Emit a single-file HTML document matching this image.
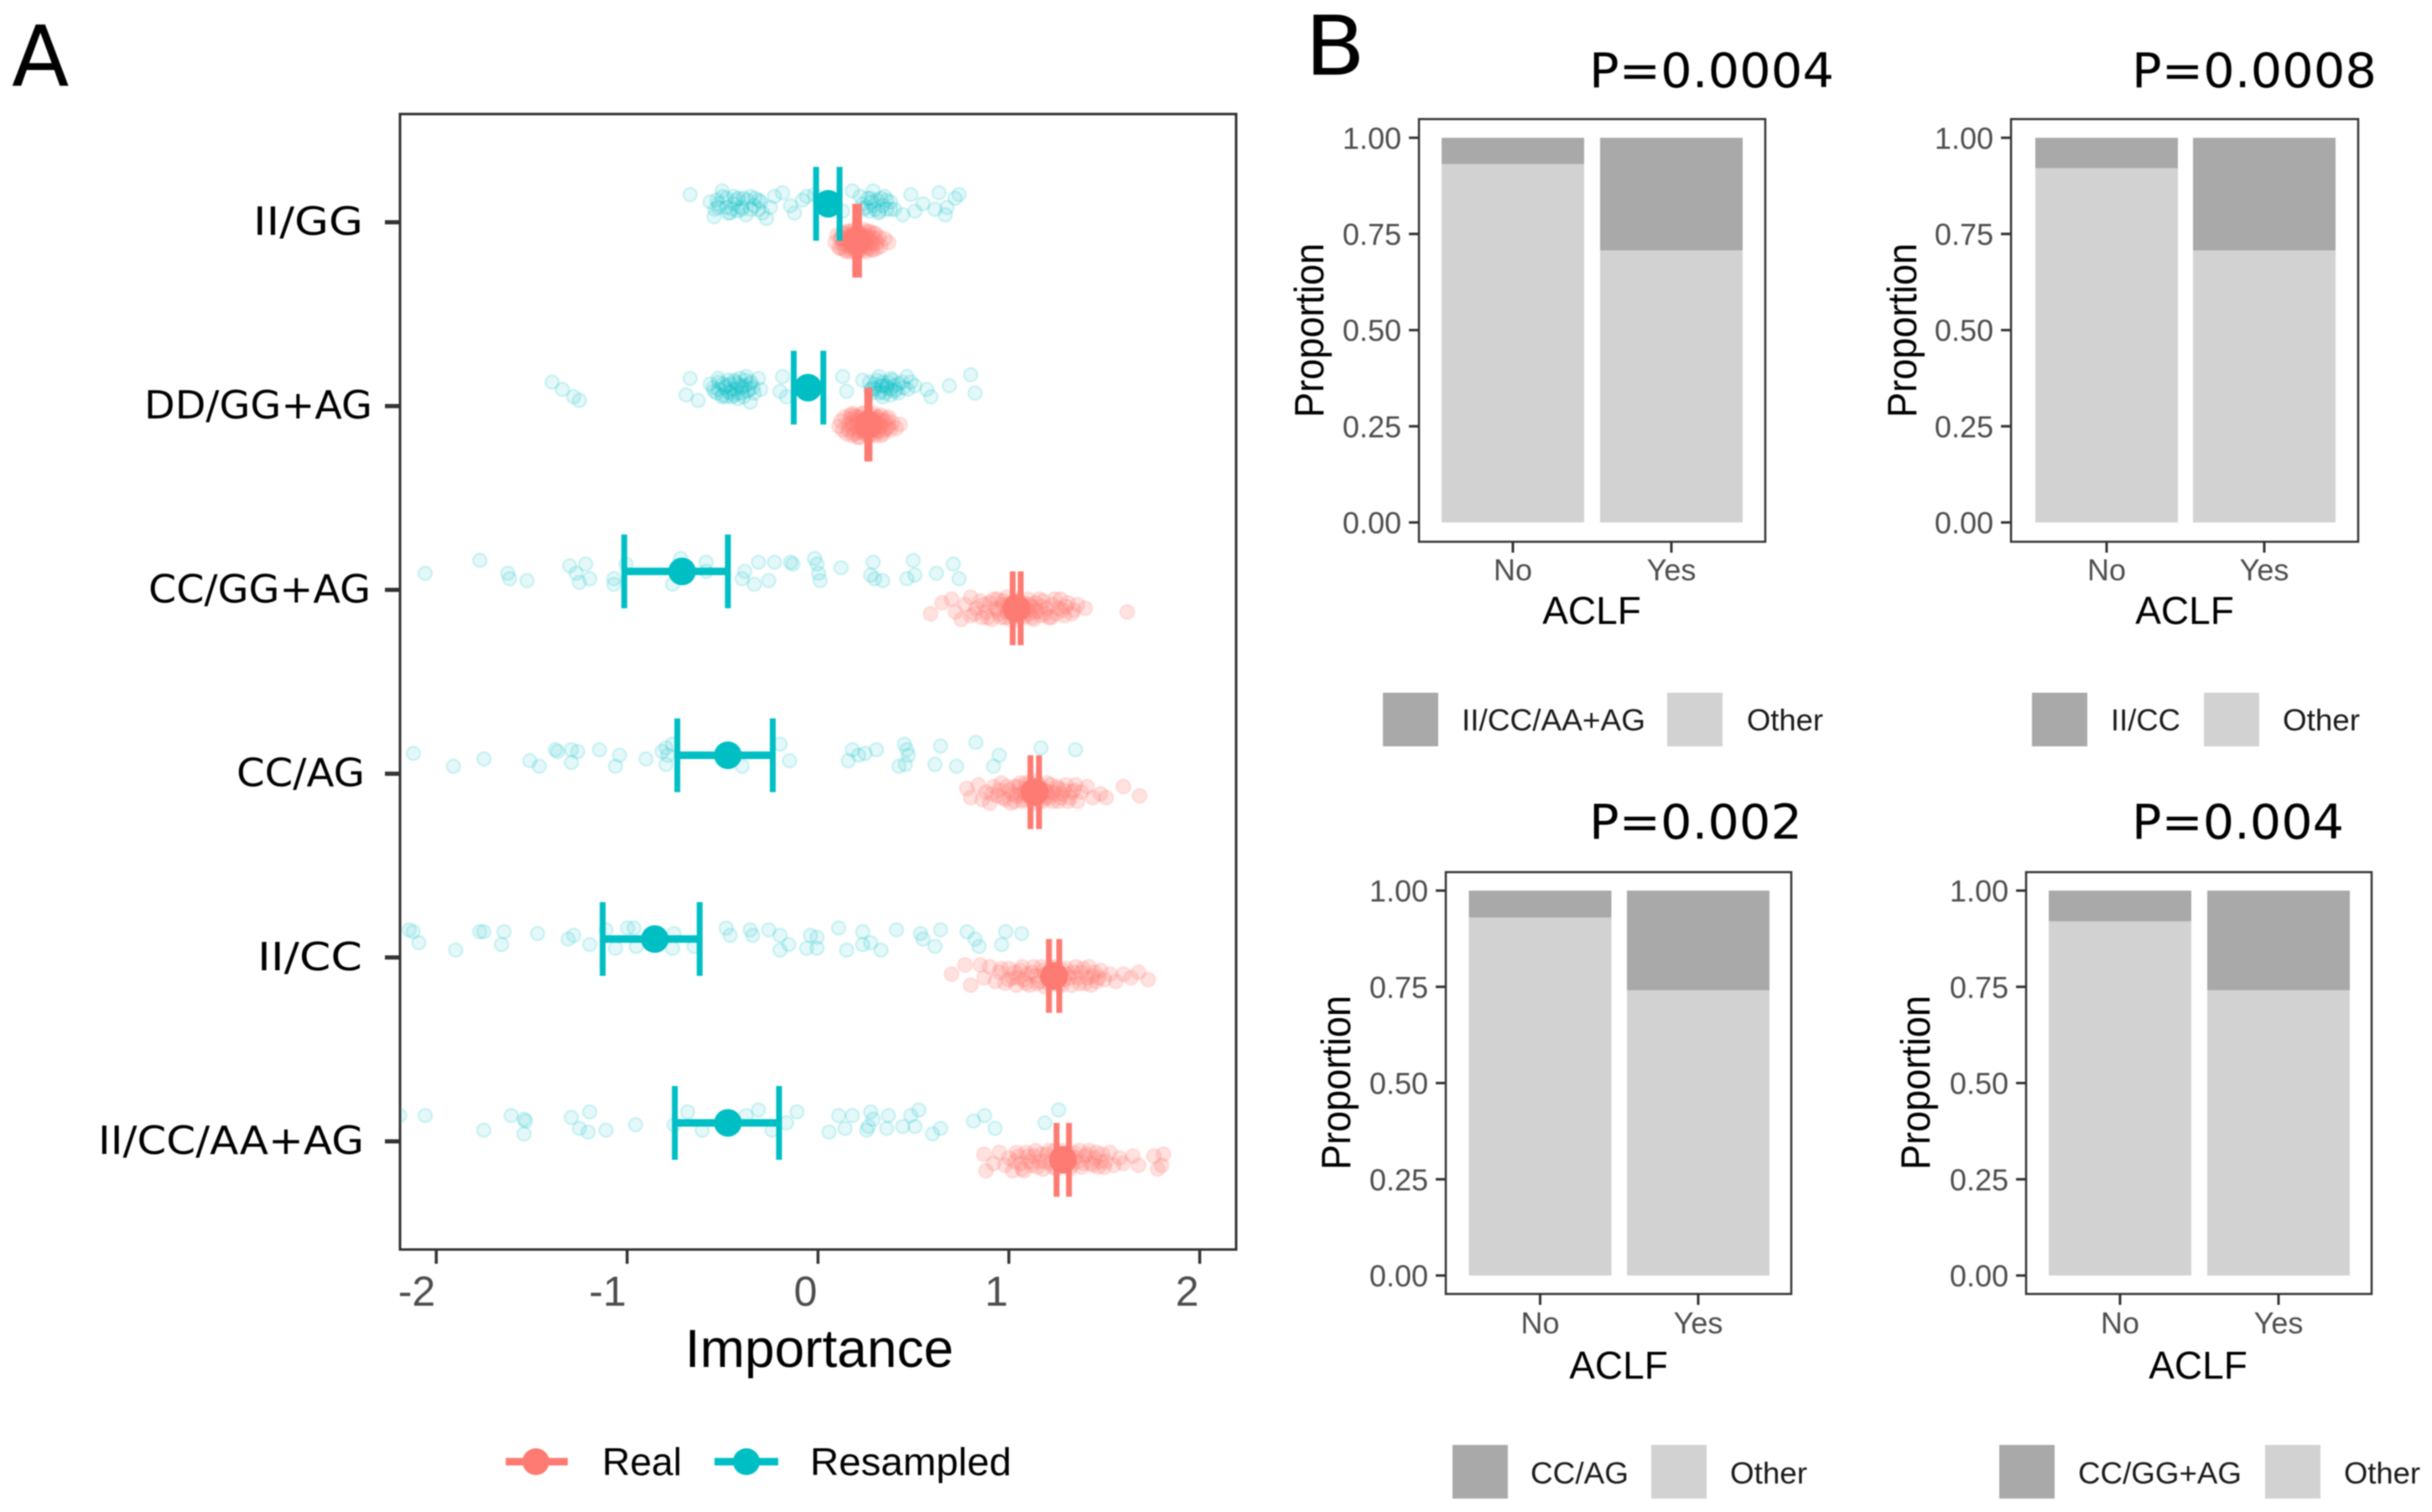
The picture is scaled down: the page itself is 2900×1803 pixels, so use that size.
<!DOCTYPE html>
<html lang="en">
<head>
<meta charset="utf-8">
<title>Importance and proportion panels</title>
<style>
html,body{margin:0;padding:0;background:#fff;width:2900px;height:1803px;overflow:hidden}
svg{display:block;filter:blur(.8px)}
text{font-family:"Liberation Sans",sans-serif}
.deja{font-family:"DejaVu Sans",sans-serif}
</style>
</head>
<body>
<svg id="chart" xmlns="http://www.w3.org/2000/svg" width="2900" height="1803" viewBox="0 0 2900 1803">
  <rect width="2900" height="1803" fill="#fff"/>
  <defs><clipPath id="panelAClip"><rect x="477" y="136" width="997" height="1354"/></clipPath></defs>
  <text class="deja" x="14" y="102" font-size="100">A</text>
  <text class="deja" x="1556" y="89" font-size="98" textLength="72" lengthAdjust="spacingAndGlyphs">B</text>
  <g id="panelA"></g>
  <text x="977" y="1630" font-size="64" text-anchor="middle">Importance</text>
  <g>
    <line x1="603" x2="677" y1="1743" y2="1743" stroke="#fd7b72" stroke-width="9"/>
    <circle cx="639" cy="1743" r="16" fill="#fd7b72"/>
    <text x="718" y="1759" font-size="46" textLength="95" lengthAdjust="spacingAndGlyphs">Real</text>
    <line x1="852" x2="928" y1="1743" y2="1743" stroke="#00bfc4" stroke-width="9"/>
    <circle cx="890" cy="1743" r="16" fill="#00bfc4"/>
    <text x="966" y="1759" font-size="46" textLength="240" lengthAdjust="spacingAndGlyphs">Resampled</text>
  </g>
  <g id="panelB"></g>
</svg>
<script>
// ---------- Panel A data ----------
const categories = ['II/GG', 'DD/GG+AG', 'CC/GG+AG', 'CC/AG', 'II/CC', 'II/CC/AA+AG'];
const xTickValues = [-2, -1, 0, 1, 2];
const xTickLabels = ['-2', '-1', '0', '1', '2'];

const resampledMean = [0.054, -0.052, -0.712, -0.472, -0.855, -0.472];
const resampledLow = [-0.01, -0.127, -1.015, -0.737, -1.128, -0.75];
const resampledHigh = [0.113, 0.028, -0.472, -0.237, -0.62, -0.204];
const realMean = [0.205, 0.264, 1.04, 1.135, 1.237, 1.283];
const realLow = [0.195, 0.258, 1.02, 1.113, 1.21, 1.25];
const realHigh = [0.215, 0.27, 1.062, 1.158, 1.264, 1.315];

// points: [importance, vertical jitter in hundredths of a category band]
const resampledPoints = [
  [[-.67,-5],[-.544,7],[-.502,-7],[-.565,-1],[-.523,2],[-.481,-3],[-.46,5],[-.439,0],[-.418,-3],[-.397,3],[-.376,6],[-.355,-4],[-.334,1],[-.312,-2],[-.291,5],[-.27,8],[-.249,2],[-.228,-4],[-.186,-6],[-.144,1],[-.123,5],[-.081,-2],[-.06,-4],[-.018,-5],[.087,-2],[.129,4],[.18,-7],[.234,0],[.276,-3],[.289,-7],[.318,5],[.339,1],[.36,-2],[.381,3],[.444,6],[.486,-5],[.508,4],[.55,0],[.613,3],[.634,-6],[.667,6],[.718,-3],[.739,-5],[.676,2],[-.52,0],[-.45,3],[-.43,-2],[-.4,2],[-.37,-2],[.25,2],[.28,-1],[.3,3],[.33,-3],[-.54,3],[-.5,-4],[-.48,2],[-.47,5],[-.44,-4],[-.42,4],[-.39,-3],[-.35,3],[-.33,-3],[-.31,3],[-.3,-1],[-.53,-2],[.22,-4],[.24,3],[.26,-3],[.27,4],[.29,1],[.31,-2],[.32,4],[.35,-4],[.36,3],[.38,-1],[.4,3]],
  [[-1.393,-3],[-1.339,1],[-1.28,5],[-1.25,7],[-.67,-5],[-.691,4],[-.628,7],[-.565,-2],[-.544,2],[-.523,-5],[-.502,5],[-.481,-1],[-.46,3],[-.439,-4],[-.418,6],[-.397,0],[-.376,-6],[-.355,-2],[-.334,3],[-.312,-5],[-.3,1],[-.355,8],[-.186,-6],[-.199,2],[-.165,5],[-.52,1],[-.5,-2],[-.47,-4],[-.45,1],[-.44,4],[-.42,-2],[-.4,3],[-.38,-1],[-.36,1],[-.48,5],[-.41,-5],[.129,-6],[.15,2],[.234,-4],[.276,1],[.297,-2],[.318,-6],[.339,5],[.36,0],[.381,-5],[.402,2],[.423,-2],[.466,-6],[.486,-3],[.508,-1],[.57,1],[.592,5],[.688,-1],[.8,-7],[.823,3],[.3,1],[.32,3],[.34,-3],[.36,-1],[.38,4],[.4,-1],[.33,-1],[.28,3],[-.55,0],[-.53,3],[-.52,-3],[-.5,4],[-.49,0],[-.47,2],[-.46,-2],[-.45,5],[-.43,1],[-.43,-3],[-.42,3],[-.4,-1],[-.39,5],[-.38,-4],[-.37,2],[-.35,-3],[-.34,0],[.27,-3],[.29,0],[.31,-4],[.33,2],[.34,-1],[.35,3],[.37,-3],[.38,1],[.39,-4],[.41,1],[.42,3],[.44,-3],[.45,0],[.47,1]],
  [[-2.058,1],[-1.772,-6],[-1.625,1],[-1.616,4],[-1.524,5],[-1.301,-3],[-1.217,-4],[-1.267,1],[-1.25,6],[-1.196,4],[-1.069,4],[-1.069,7],[-1.006,-4],[-.762,7],[-.72,-7],[-.586,-5],[-.586,0],[-.384,0],[-.397,4],[-.312,-5],[-.334,7],[-.258,5],[-.228,-5],[-.144,-5],[-.132,-4],[-.018,-7],[-.005,-4],[.003,1],[.011,5],[.121,-2],[.289,-5],[.276,2],[.297,4],[.339,5],[.466,4],[.499,-6],[.508,2],[.621,1],[.709,-4],[.739,4]],
  [[-2.12,-1],[-1.91,6],[-1.75,2],[-1.51,3],[-1.46,6],[-1.376,-3],[-1.364,-2],[-1.292,-3],[-1.292,4],[-1.259,-2],[-1.145,-3],[-1.061,6],[-1.04,0],[-.901,2],[-.817,-2],[-.796,-4],[-.796,5],[-.787,0],[-.762,-6],[-.397,6],[-.199,-6],[-.149,3],[.159,3],[.18,-3],[.213,0],[.247,-1],[.306,-3],[.424,6],[.453,-6],[.466,-3],[.474,0],[.457,5],[.613,5],[.642,-5],[.726,6],[.827,-7],[.92,6],[.949,0],[1.168,-4],[1.349,-3]],
  [[-2.142,-5],[-2.121,-4],[-2.091,2],[-1.898,6],[-1.772,-4],[-1.751,-4],[-1.658,3],[-1.645,-4],[-1.469,-3],[-1.309,0],[-1.28,-2],[-1.196,3],[-1.111,-5],[-1.061,5],[-.998,-6],[-.964,-6],[-.952,4],[-.754,-3],[-.762,5],[-.649,4],[-.481,-6],[-.46,-2],[-.355,-5],[-.342,-2],[-.258,-5],[-.199,-2],[-.199,6],[-.153,3],[-.06,5],[-.039,-2],[-.005,-1],[-.005,5],[.108,-6],[.15,6],[.234,-4],[.234,3],[.276,2],[.331,6],[.411,-5],[.537,-3],[.55,0],[.613,4],[.642,-5],[.781,-4],[.823,0],[.844,4],[.962,3],[.983,-4],[1.067,-3]],
  [[-2.192,-4],[-2.058,-4],[-1.751,4],[-1.608,-4],[-1.54,-2],[-1.532,-1],[-1.54,6],[-1.292,-3],[-1.25,3],[-1.204,5],[-1.196,-6],[-1.111,4],[-.956,1],[-.754,1],[-.683,-6],[-.607,4],[-.376,-4],[-.312,-7],[-.241,4],[-.165,0],[-.11,-6],[.058,5],[.108,-4],[.142,3],[.18,-4],[.255,4],[.276,-6],[.289,-2],[.264,2],[.36,3],[.369,-4],[.444,2],[.486,-4],[.528,-7],[.508,2],[.6,6],[.642,3],[.815,-1],[.873,-4],[.928,3],[1.189,0],[1.261,-7]]
];
const realPoints = [
  [[.09,1],[.1,-3],[.11,4],[.12,-1],[.13,2],[.14,-4],[.14,5],[.15,0],[.16,-2],[.16,3],[.17,-5],[.17,6],[.18,1],[.18,-3],[.19,4],[.19,-1],[.2,-5],[.2,2],[.21,6],[.21,-2],[.22,0],[.22,4],[.23,-4],[.23,2],[.24,-1],[.24,5],[.25,-3],[.25,1],[.26,3],[.26,-5],[.27,0],[.28,5],[.28,-2],[.29,2],[.3,-4],[.31,1],[.32,-2],[.33,3],[.35,-1],[.37,1],[.12,4],[.13,-4],[.14,1],[.15,-5],[.15,6],[.16,-1],[.17,3],[.17,-3],[.18,5],[.19,-6],[.19,2],[.2,-2],[.2,6],[.21,1],[.21,-5],[.22,-3],[.22,5],[.23,-1],[.24,-6],[.24,3],[.25,6],[.26,-2],[.27,-5],[.27,4],[.28,1],[.29,-4],[.29,5],[.3,-1],[.31,4],[.12,-2]],
  [[.11,1],[.12,-2],[.13,3],[.14,-4],[.15,5],[.16,0],[.17,-3],[.18,2],[.18,6],[.19,-5],[.2,1],[.2,-2],[.21,4],[.22,-4],[.22,7],[.23,0],[.24,-6],[.24,3],[.25,-2],[.25,5],[.26,1],[.26,-4],[.27,6],[.27,-1],[.28,3],[.28,-5],[.29,0],[.29,5],[.3,-3],[.3,2],[.31,-1],[.32,4],[.32,-4],[.33,1],[.34,-2],[.35,3],[.36,-3],[.37,1],[.39,-1],[.41,2],[.43,0],[.16,3],[.17,-5],[.18,-1],[.19,5],[.2,-4],[.21,-1],[.21,7],[.22,2],[.23,-6],[.23,4],[.24,-2],[.25,1],[.26,6],[.27,-3],[.28,0],[.29,-6],[.3,6],[.31,3],[.31,-4],[.32,0],[.33,-5],[.34,5],[.35,-2],[.36,2],[.37,-4],[.38,3],[.18,-6],[.33,6]],
  [[.59,3],[.65,-3],[.7,-5],[.72,2],[.75,6],[.77,-2],[.8,-6],[.8,4],[.83,0],[.85,-4],[.86,5],[.88,2],[.9,-3],[.91,6],[.93,0],[.94,-5],[.95,3],[.97,-2],[.98,5],[.99,-6],[1,1],[1.01,-3],[1.02,4],[1.03,-1],[1.04,6],[1.05,-4],[1.06,2],[1.07,-2],[1.08,5],[1.09,0],[1.1,-5],[1.11,3],[1.12,-1],[1.13,6],[1.14,-3],[1.15,1],[1.17,4],[1.18,-4],[1.2,0],[1.21,5],[1.23,-2],[1.25,3],[1.27,-5],[1.28,1],[1.3,-1],[1.33,3],[1.36,-2],[1.4,0],[1.62,2],[.82,3],[.87,-2],[.89,5],[.92,-5],[.94,1],[.96,5],[.97,-4],[.99,2],[1,-2],[1.01,6],[1.03,3],[1.04,-5],[1.05,0],[1.07,4],[1.08,-3],[1.1,1],[1.11,-2],[1.12,5],[1.14,2],[1.16,-5],[1.17,-1],[1.19,3],[1.22,5],[1.24,-5],[1.26,0],[1.29,4],[1.31,-3],[1.34,1]],
  [[.78,-2],[.8,3],[.84,-4],[.86,4],[.88,0],[.9,6],[.92,-3],[.94,2],[.96,-5],[.98,4],[1,-1],[1.01,6],[1.03,-3],[1.04,2],[1.06,-5],[1.07,5],[1.08,0],[1.09,-2],[1.1,3],[1.11,-5],[1.12,1],[1.13,6],[1.14,-2],[1.15,3],[1.16,-4],[1.17,1],[1.18,5],[1.19,-1],[1.2,-5],[1.21,3],[1.23,0],[1.25,-3],[1.26,5],[1.28,1],[1.3,-4],[1.32,3],[1.34,-1],[1.36,5],[1.38,0],[1.41,-3],[1.44,3],[1.48,1],[1.51,3],[1.6,-3],[1.685,2],[.91,1],[.95,-1],[.97,3],[.99,-3],[1.02,1],[1.03,5],[1.05,-3],[1.06,1],[1.08,4],[1.09,-5],[1.1,0],[1.12,-3],[1.13,3],[1.14,-6],[1.15,1],[1.16,5],[1.17,-2],[1.19,3],[1.2,0],[1.22,-4],[1.23,5],[1.24,1],[1.26,-2],[1.27,3],[1.29,-1],[1.31,5],[1.33,0],[1.35,-4]],
  [[.7,-1],[.77,-6],[.8,5],[.85,-6],[.87,1],[.9,-5],[.93,3],[.95,-2],[.98,4],[1,-4],[1.02,1],[1.04,5],[1.06,-3],[1.08,2],[1.1,-1],[1.11,5],[1.13,-5],[1.14,0],[1.16,3],[1.18,-3],[1.19,6],[1.2,1],[1.22,-2],[1.23,4],[1.24,-5],[1.25,0],[1.26,5],[1.28,-3],[1.29,2],[1.31,-1],[1.33,5],[1.35,-5],[1.36,1],[1.38,-2],[1.4,4],[1.42,-5],[1.44,0],[1.46,3],[1.48,-3],[1.5,2],[1.53,-1],[1.56,3],[1.6,-1],[1.64,1],[1.68,-2],[1.73,2],[.96,-4],[1.0,2],[1.03,-2],[1.05,1],[1.07,-5],[1.09,4],[1.12,-2],[1.15,4],[1.17,-5],[1.19,-1],[1.21,4],[1.23,-4],[1.25,3],[1.27,-1],[1.28,5],[1.3,-4],[1.32,1],[1.34,-2],[1.37,4],[1.39,-4],[1.41,1],[1.43,5],[1.45,-2],[1.47,1]],
  [[.87,-3],[.88,6],[.92,2],[.95,-4],[.98,3],[1,-1],[1.02,6],[1.04,-4],[1.06,2],[1.08,6],[1.1,-2],[1.12,3],[1.14,-5],[1.16,1],[1.18,5],[1.2,-3],[1.22,2],[1.24,-5],[1.25,5],[1.26,0],[1.28,-3],[1.29,3],[1.31,-1],[1.32,5],[1.34,-4],[1.36,1],[1.38,4],[1.4,-2],[1.42,-5],[1.43,2],[1.45,-1],[1.47,4],[1.49,-3],[1.51,1],[1.53,-4],[1.55,3],[1.58,-1],[1.6,2],[1.65,-2],[1.68,3],[1.76,-2],[1.8,3],[1.81,-3],[1.78,5],[1.03,1],[1.05,-2],[1.07,5],[1.09,-4],[1.11,1],[1.13,-2],[1.15,4],[1.17,-3],[1.19,1],[1.21,-5],[1.23,4],[1.25,-2],[1.27,3],[1.28,-5],[1.3,1],[1.32,-3],[1.33,3],[1.35,-1],[1.37,-5],[1.39,2],[1.41,-3],[1.44,3],[1.46,-4],[1.48,1],[1.5,4]]
];

// ---------- Panel B data ----------
const aclfGroups = ['No', 'Yes'];
const proportionTicks = [0, 0.25, 0.5, 0.75, 1];
const proportionTickLabels = ['0.00', '0.25', '0.50', '0.75', '1.00'];
const panelTitles = ['P=0.0004', 'P=0.0008', 'P=0.002', 'P=0.004'];
const genotypeNames = ['II/CC/AA+AG', 'II/CC', 'CC/AG', 'CC/GG+AG'];
const otherShareNo = [0.932, 0.921, 0.93, 0.92];
const otherShareYes = [0.707, 0.707, 0.741, 0.741];

// ---------- Layout (not data) ----------
const SVGNS = 'http://www.w3.org/2000/svg';
const REAL = '#fd7b72';
const TEAL = '#00bfc4';
const x0 = 975.4, xUnit = 227.6, firstBand = 265, bandStep = 219.2;
const xScale = v => x0 + xUnit * v;
const bandY = i => firstBand + bandStep * i;
const labelFit = {'II/GG': 131, 'DD/GG+AG': 272, 'CC/GG+AG': 265, 'CC/AG': 153, 'II/CC': 125, 'II/CC/AA+AG': 317};
const labelRight = {'II/GG': 433, 'DD/GG+AG': 444, 'CC/GG+AG': 442, 'CC/AG': 435, 'II/CC': 432, 'II/CC/AA+AG': 434};
const panelBoxes = [
  {fl: 1692, fr: 2105, ft: 142, fb: 646, y1: 164.3, y0: 623, barL: [1719, 1908], barW: 170, yLabX: 1578, yLabY: 394, titleX: 1895, titleW: 292, titleY: 104,
   aclfX: 1898, aclfY: 744, noY: 692, legT: 826, legH: 64, sq: [1649, 1988], legX: [1743, 2083], legW: [219, 91], legY: 871},
  {fl: 2398, fr: 2812, ft: 142, fb: 646, y1: 164.3, y0: 623, barL: [2427, 2615], barW: 170, yLabX: 2285, yLabY: 394, titleX: 2542, titleW: 292, titleY: 104,
   aclfX: 2605, aclfY: 744, noY: 692, legT: 826, legH: 64, sq: [2423, 2628], legX: [2517, 2722], legW: [83, 92], legY: 871},
  {fl: 1724, fr: 2136, ft: 1040, fb: 1543, y1: 1062, y0: 1521, barL: [1751.5, 1940], barW: 170, yLabX: 1610, yLabY: 1291, titleX: 1895, titleW: 254, titleY: 1000,
   aclfX: 1930, aclfY: 1644, noY: 1590, legT: 1723, legH: 64, sq: [1732, 1969], legX: [1825, 2063], legW: [117, 92], legY: 1769},
  {fl: 2416, fr: 2828, ft: 1040, fb: 1543, y1: 1062, y0: 1521, barL: [2443, 2632], barW: 170, yLabX: 2301, yLabY: 1291, titleX: 2542, titleW: 253, titleY: 1000,
   aclfX: 2621, aclfY: 1644, noY: 1590, legT: 1723, legH: 64, sq: [2384, 2701], legX: [2478, 2795], legW: [195, 91], legY: 1769}
];

function add(parent, tag, attrs, txt) {
  const el = document.createElementNS(SVGNS, tag);
  for (const k in attrs) el.setAttribute(k, attrs[k]);
  if (txt !== undefined) el.textContent = txt;
  parent.appendChild(el);
  return el;
}

// ---------- Panel A ----------
const pa = document.getElementById('panelA');

const frameA = add(pa, 'rect', {x: 477, y: 136, width: 997, height: 1354, fill: 'none', stroke: '#333', 'stroke-width': 3});



xTickValues.forEach((v, i) => {
  const t = add(pa, 'line', {x1: xScale(v), x2: xScale(v), y1: 1490, y2: 1507, stroke: '#333', 'stroke-width': 3.5});
  
  
  const l = add(pa, 'text', {x: xScale(v) - 1, y: 1557, 'font-size': 50, 'text-anchor': 'end', fill: '#4d4d4d'}, xTickLabels[i]);
  
  
});

const clipG = add(pa, 'g', {'clip-path': 'url(#panelAClip)'});



function drawPoints(list, row, offset, color, radius, fillOp, strokeOp, name) {
  list.forEach(p => {
    const c = add(clipG, 'circle', {
      cx: xScale(p[0]), cy: bandY(row) + offset + p[1] * bandStep / 100, r: radius,
      fill: color, 'fill-opacity': fillOp, stroke: color, 'stroke-opacity': strokeOp, 'stroke-width': 2.5
    });
    
    
  });
}

function drawSummary(row, offset, lo, hi, mean, color, name) {
  const y = bandY(row) + offset;
  const g = add(clipG, 'g', {stroke: color});
  
  
  add(g, 'line', {x1: xScale(lo), x2: xScale(hi), y1: y, y2: y, 'stroke-width': 9});
  add(g, 'line', {x1: xScale(lo), x2: xScale(lo), y1: y - 44, y2: y + 44, 'stroke-width': 7});
  add(g, 'line', {x1: xScale(hi), x2: xScale(hi), y1: y - 44, y2: y + 44, 'stroke-width': 7});
  add(g, 'circle', {cx: xScale(mean), cy: y, r: 16.5, fill: color, stroke: 'none'});
}

categories.forEach((name, i) => {
  const t = add(pa, 'line', {x1: 459, x2: 477, y1: bandY(i), y2: bandY(i), stroke: '#333', 'stroke-width': 5});
  
  
  const l = add(pa, 'text', {x: labelRight[name], y: bandY(i) + 15, 'font-size': 46, 'text-anchor': 'end', textLength: labelFit[name], lengthAdjust: 'spacingAndGlyphs', style: 'font-family:"DejaVu Sans",sans-serif'}, name);
  
  
  drawPoints(resampledPoints[i], i, -22, TEAL, 8, 0.1, 0.16, 'resampled-point');
  drawPoints(realPoints[i], i, 22, REAL, 8.5, 0.22, 0.14, 'real-point');
});
categories.forEach((name, i) => {
  drawSummary(i, 22, realLow[i], realHigh[i], realMean[i], REAL, 'real-summary');
  drawSummary(i, -22, resampledLow[i], resampledHigh[i], resampledMean[i], TEAL, 'resampled-summary');
});

// ---------- Panel B ----------
const pb = document.getElementById('panelB');
const DARK = '#a9a9a9', LIGHT = '#d2d2d2';

panelBoxes.forEach((b, i) => {
  const g = add(pb, 'g', {});
  
  
  const yScale = v => b.y0 + (b.y1 - b.y0) * v;

  const title = add(g, 'text', {x: b.titleX, y: b.titleY, 'font-size': 57, textLength: b.titleW, lengthAdjust: 'spacingAndGlyphs', style: 'font-family:"DejaVu Sans",sans-serif'}, panelTitles[i]);
  
  

  [otherShareNo[i], otherShareYes[i]].forEach((other, k) => {
    const lo = add(g, 'rect', {x: b.barL[k], width: b.barW, y: yScale(other), height: yScale(0) - yScale(other), fill: LIGHT});
    
    
    const hi = add(g, 'rect', {x: b.barL[k], width: b.barW, y: yScale(1), height: yScale(other) - yScale(1), fill: DARK});
    
    
    const cx = b.barL[k] + b.barW / 2;
    const tick = add(g, 'line', {x1: cx, x2: cx, y1: b.fb, y2: b.fb + 13, stroke: '#333', 'stroke-width': 3});
    
    
    const lab = add(g, 'text', {x: cx, y: b.noY, 'font-size': 36, 'text-anchor': 'middle', fill: '#4d4d4d'}, aclfGroups[k]);
    
    
  });

  const frame = add(g, 'rect', {x: b.fl, y: b.ft, width: b.fr - b.fl, height: b.fb - b.ft, fill: 'none', stroke: '#333', 'stroke-width': 2.5});
  
  

  proportionTicks.forEach((v, k) => {
    const tick = add(g, 'line', {x1: b.fl - 12, x2: b.fl, y1: yScale(v), y2: yScale(v), stroke: '#333', 'stroke-width': 3});
    
    
    const lab = add(g, 'text', {x: b.fl - 21, y: yScale(v) + 13, 'font-size': 36, 'text-anchor': 'end', fill: '#4d4d4d'}, proportionTickLabels[k]);
    
    
  });

  const yt = add(g, 'text', {x: 0, y: 0, 'font-size': 49, 'text-anchor': 'middle', textLength: 208, lengthAdjust: 'spacingAndGlyphs', transform: 'translate(' + b.yLabX + ',' + b.yLabY + ') rotate(-90)'}, 'Proportion');
  
  

  const xt = add(g, 'text', {x: b.aclfX, y: b.aclfY, 'font-size': 46, 'text-anchor': 'middle'}, 'ACLF');
  
  

  [genotypeNames[i], 'Other'].forEach((name, k) => {
    const sw = add(g, 'rect', {x: b.sq[k], y: b.legT, width: 66, height: b.legH, fill: k === 0 ? DARK : LIGHT});
    
    
    const tx = add(g, 'text', {x: b.legX[k], y: b.legY, 'font-size': 36, textLength: b.legW[k], lengthAdjust: 'spacingAndGlyphs', fill: '#1a1a1a'}, name);
    
    
  });
});
</script>
</body>
</html>
